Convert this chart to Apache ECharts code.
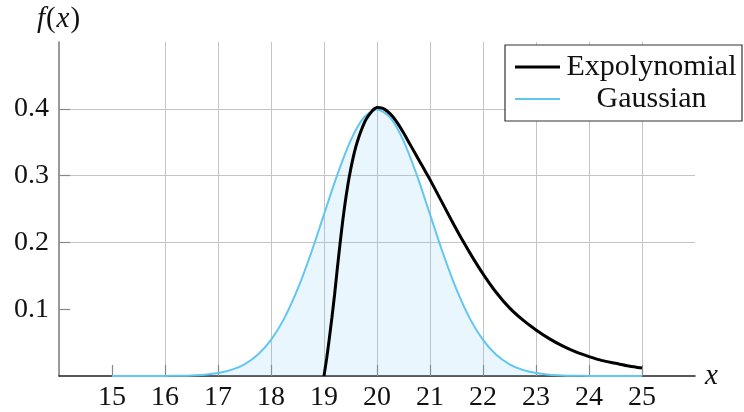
<!DOCTYPE html>
<html>
<head>
<meta charset="utf-8">
<script src="https://cdn.jsdelivr.net/npm/echarts@6/dist/echarts.min.js"></script>
<style>
html,body{margin:0;padding:0;background:#fff;}
#chart{width:744px;height:412px;}
</style>
</head>
<body>
<div id="chart"></div>
<script>
// ---- data ----
const xTicks = [15, 16, 17, 18, 19, 20, 21, 22, 23, 24, 25];
const yTicks = [0.1, 0.2, 0.3, 0.4];

const gaussX = [15, 15.25, 15.5, 15.75, 16, 16.25, 16.5, 16.75, 17, 17.25, 17.5, 17.75, 18, 18.25, 18.5, 18.75, 19, 19.25, 19.5, 19.75, 20,
                20.25, 20.5, 20.75, 21, 21.25, 21.5, 21.75, 22, 22.25, 22.5, 22.75, 23, 23.25, 23.5, 23.75, 24, 24.25, 24.5, 24.75, 25];
const gaussY = [0.0000, 0.0000, 0.0000, 0.0000, 0.0001, 0.0004, 0.0009, 0.0020, 0.0044, 0.0091, 0.0175, 0.0317, 0.0540, 0.0863, 0.1295, 0.1826, 0.2420, 0.3011, 0.3521, 0.3867, 0.3989,
                0.3867, 0.3521, 0.3011, 0.2420, 0.1826, 0.1295, 0.0863, 0.0540, 0.0317, 0.0175, 0.0091, 0.0044, 0.0020, 0.0009, 0.0004, 0.0001, 0.0000, 0.0000, 0.0000, 0.0000];

const expoX = [19.0, 19.05, 19.1, 19.15, 19.2, 19.25, 19.3, 19.35, 19.4, 19.45, 19.5, 19.55, 19.6, 19.65, 19.7, 19.75, 19.8, 19.85, 19.9, 19.95, 20.0, 20.1, 20.2, 20.3, 20.4, 20.5, 20.6, 20.7, 20.8, 20.9, 21.0,
               21.2, 21.4, 21.6, 21.8, 22.0, 22.25, 22.5, 22.75, 23.0, 23.25, 23.5, 23.75, 24.0, 24.25, 24.5, 24.75, 25.0];
const expoY = [0.000, 0.026, 0.056, 0.088, 0.122, 0.160, 0.196, 0.230, 0.260, 0.286, 0.308, 0.327, 0.343, 0.356, 0.367, 0.377, 0.385, 0.391, 0.396, 0.400, 0.402, 0.401, 0.396, 0.388, 0.377, 0.364, 0.350, 0.336, 0.322, 0.308, 0.294,
               0.264, 0.234, 0.205, 0.178, 0.153, 0.125, 0.102, 0.084, 0.069, 0.056, 0.045, 0.036, 0.029, 0.023, 0.019, 0.015, 0.012];

const seriesNames = ['Expolynomial', 'Gaussian'];
const xRange = [14, 26];
const yRange = [0, 0.5];
// ----------------------------------------------

const font = '"Liberation Serif", "Times New Roman", serif';
const zip = (xs, ys) => xs.map((x, i) => [x, ys[i]]);
const BLUE = '#62c6f2';

const chart = echarts.init(document.getElementById('chart'), null, {renderer: 'canvas'});

const xSplitColors = [];
for (let v = xRange[0]; v <= xRange[1]; v++) xSplitColors.push(xTicks.includes(v) ? '#c4c4c4' : 'rgba(0,0,0,0)');
const ySplitColors = [];
for (let i = 0; i <= 5; i++) {
  const v = +(i * 0.1).toFixed(1);
  ySplitColors.push(yTicks.includes(v) ? '#c4c4c4' : 'rgba(0,0,0,0)');
}

chart.setOption({
  animation: false,
  backgroundColor: '#fff',
  textStyle: {fontFamily: font},
  grid: {left: 59, right: 49, top: 42, bottom: 36, containLabel: false},
  legend: {
    data: [
      {name: seriesNames[0], icon: 'path://M0,0H45V3H0Z', itemStyle: {color: '#000'}},
      {name: seriesNames[1], icon: 'path://M0,0H45V2H0Z', itemStyle: {color: BLUE}}
    ],
    orient: 'vertical',
    left: 505,
    top: 45,
    padding: [7, 4, 7, 10],
    itemWidth: 45,
    itemHeight: 3,
    itemGap: 2,
    symbolKeepAspect: true,
    backgroundColor: '#fff',
    borderColor: '#333',
    borderWidth: 1.2,
    borderRadius: 0,
    formatter: (n) => '{a|' + n + '}',
    textStyle: {
      fontFamily: font,
      fontSize: 30,
      color: '#111',
      rich: {a: {fontFamily: font, fontSize: 30, width: 173, align: 'center', lineHeight: 32, color: '#111'}}
    }
  },
  xAxis: {
    type: 'value',
    min: xRange[0],
    max: xRange[1],
    interval: 1,
    name: 'x',
    nameLocation: 'end',
    nameGap: 10,
    nameTextStyle: {fontFamily: font, fontStyle: 'italic', fontSize: 29, color: '#111', verticalAlign: 'middle', align: 'left'},
    axisLine: {show: true, onZero: false, lineStyle: {color: '#222', width: 1.5}},
    axisTick: {show: true, inside: true, length: 11, customValues: xTicks, lineStyle: {color: '#888', width: 1.2}},
    axisLabel: {show: true, customValues: xTicks, margin: 8, fontFamily: font, fontSize: 28, color: '#111'},
    splitLine: {show: true, lineStyle: {color: xSplitColors, width: 1}}
  },
  yAxis: {
    type: 'value',
    min: yRange[0],
    max: yRange[1],
    interval: 0.1,
    name: '{i|f}{r|(}{i|x}{r|)}',
    nameLocation: 'end',
    nameGap: 8,
    nameTextStyle: {fontFamily: font, fontSize: 29, color: '#111', align: 'center',
      rich: {
        i: {fontFamily: font, fontStyle: 'italic', fontSize: 29, color: '#111'},
        r: {fontFamily: font, fontSize: 29, color: '#111', padding: [0, 1, 0, 1]}
      }},
    axisLine: {show: true, onZero: false, lineStyle: {color: '#777', width: 1.5}},
    axisTick: {show: true, inside: true, length: 11, customValues: yTicks, lineStyle: {color: '#888', width: 1.2}},
    axisLabel: {show: true, customValues: yTicks, margin: 10, fontFamily: font, fontSize: 28, color: '#111',
      formatter: (v) => v.toFixed(1)},
    splitLine: {show: true, lineStyle: {color: ySplitColors, width: 1}}
  },
  series: [
    {
      name: seriesNames[1],
      type: 'line',
      data: zip(gaussX, gaussY),
      smooth: 0.3,
      symbol: 'none',
      lineStyle: {color: BLUE, width: 2},
      itemStyle: {color: BLUE},
      areaStyle: {color: 'rgba(98,190,238,0.2)', origin: 'start'},
      z: 2
    },
    {
      name: seriesNames[0],
      type: 'line',
      data: zip(expoX, expoY),
      smooth: 0.3,
      symbol: 'none',
      lineStyle: {color: '#000', width: 3},
      itemStyle: {color: '#000'},
      z: 3
    }
  ]
});
</script>
</body>
</html>
